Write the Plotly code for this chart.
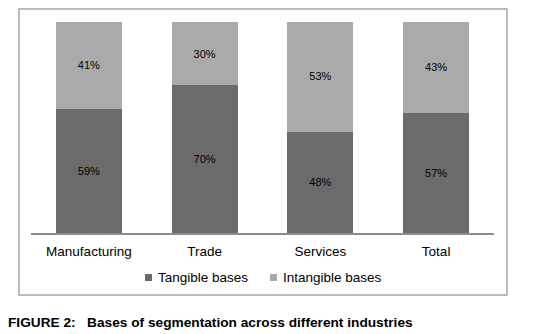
import plotly.graph_objects as go

categories = ["Manufacturing", "Trade", "Services", "Total"]
tangible = [59, 70, 48, 57]
intangible = [41, 30, 53, 43]
series_names = ["Tangible bases", "Intangible bases"]
series_colors = ["#6b6b6b", "#aaaaaa"]
caption = "FIGURE 2:\u00a0\u00a0\u00a0Bases of segmentation across different industries"

W, H = 534, 334
L, R, T, B = 31, 40, 22, 101
pw, ph = W - L - R, H - T - B

def px_x(x):
    return (x - L) / pw

def px_y(y):
    return (H - B - y) / ph

FONT = "Liberation Sans, Arial"

fig = go.Figure()
for name, vals, col in zip(series_names, [tangible, intangible], series_colors):
    fig.add_trace(go.Bar(
        x=categories, y=vals, name=name,
        marker=dict(color=col, line=dict(width=0)),
        text=[f"{v}%" for v in vals], textposition="inside",
        insidetextanchor="middle", textangle=0,
        textfont=dict(size=11, color="black", family=FONT),
        showlegend=False,
    ))

# manual legend (small squares + text) to match the reference
shapes = [dict(type="rect", xref="paper", yref="paper",
               x0=px_x(19), x1=px_x(507), y0=px_y(295), y1=px_y(9),
               line=dict(color="#a6a6a6", width=1.5), fillcolor="rgba(0,0,0,0)", layer="below")]
annotations = []
legend_marker_x = [145, 270]
for name, col, mx in zip(series_names, series_colors, legend_marker_x):
    shapes.append(dict(type="rect", xref="paper", yref="paper",
                       x0=px_x(mx), x1=px_x(mx + 7), y0=px_y(281), y1=px_y(274),
                       line=dict(width=0), fillcolor=col))
    annotations.append(dict(text=name, xref="paper", yref="paper",
                            x=px_x(mx + 11), y=px_y(277.5), xanchor="left", yanchor="middle",
                            showarrow=False, font=dict(size=13.5, family=FONT, color="black")))

annotations.append(dict(text="<b>" + caption + "</b>", xref="paper", yref="paper",
                        x=px_x(6), y=px_y(322), xanchor="left", yanchor="middle",
                        showarrow=False, font=dict(size=13.7, family=FONT, color="black")))

fig.update_layout(
    barmode="stack",
    bargap=0.43,
    width=W, height=H,
    margin=dict(l=L, r=R, t=T, b=B, pad=0),
    paper_bgcolor="white", plot_bgcolor="white",
    font=dict(family=FONT, size=13, color="black"),
    uniformtext=dict(minsize=11, mode="show"),
    xaxis=dict(showline=True, linecolor="#8c8c8c", linewidth=1.5, ticks="",
               tickfont=dict(size=13.5), showgrid=False, zeroline=False,
               ticklabelstandoff=5),
    yaxis=dict(range=[0, 100], visible=False, showgrid=False, zeroline=False),
    showlegend=False,
    shapes=shapes,
    annotations=annotations,
)

fig.write_html("out.html", config={"displayModeBar": False},
               post_script="document.body.style.margin='0px';")
